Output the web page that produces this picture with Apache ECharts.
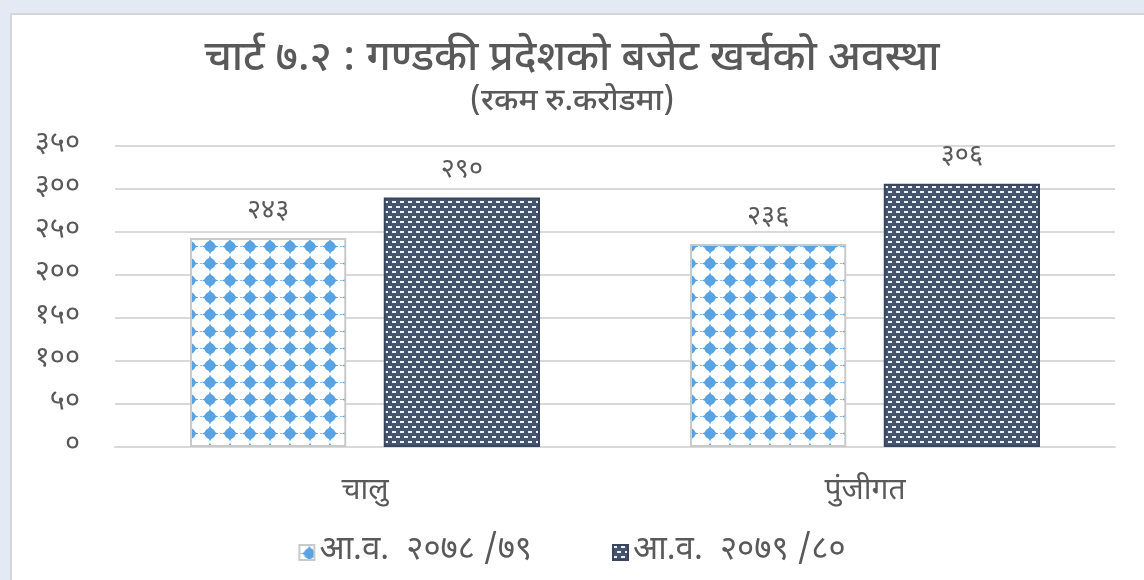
<!DOCTYPE html>
<html>
<head>
<meta charset="utf-8">
<script src="https://cdn.jsdelivr.net/npm/echarts@6/dist/echarts.min.js"></script>
<style>
  html, body { margin: 0; padding: 0; background: #e4eaf4; }
  .frame {
    position: absolute; left: 10px; top: 13px; width: 1140px; height: 580px;
    background: #fff; border: 2px solid #d6d6d6;
  }
  #chart { position: absolute; left: -12px; top: -15px; width: 1144px; height: 580px; }
</style>
</head>
<body>
<div class="frame"><div id="chart"></div></div>
<script>
// 数据
const categories = ['चालु', 'पुंजीगत']
const seriesNames = ['आ.व.  २०७८ /७९', 'आ.व.  २०७९ /८०']
const values7879 = [243, 236]
const values7980 = [290, 306]
const titleText = 'चार्ट ७.२ : गण्डकी प्रदेशको बजेट खर्चको अवस्था'
const subText = '(रकम रु.करोडमा)'

const FONT = "'Noto Sans Devanagari', 'Noto Sans', sans-serif"
const devDigits = ['०', '१', '२', '३', '४', '५', '६', '७', '८', '९']
const toDev = v => String(v).replace(/[0-9]/g, d => devDigits[+d])

// 蓝色星点图案
const makeDotPattern = () => {
  const c = document.createElement('canvas')
  c.width = 20; c.height = 17
  const g = c.getContext('2d')
  g.fillStyle = '#ffffff'
  g.fillRect(0, 0, 20, 17)
  g.strokeStyle = '#8cc0ec'
  g.lineWidth = 1
  g.setLineDash([2, 2])
  g.beginPath(); g.moveTo(0, 8.5); g.lineTo(20, 8.5); g.stroke()
  g.setLineDash([])
  g.fillStyle = '#5aa3e2'
  const cx = 10, cy = 8.5, r = 8
  g.beginPath()
  g.moveTo(cx, cy - r)
  g.quadraticCurveTo(cx + 2, cy - 2, cx + r, cy)
  g.quadraticCurveTo(cx + 2, cy + 2, cx, cy + r)
  g.quadraticCurveTo(cx - 2, cy + 2, cx - r, cy)
  g.quadraticCurveTo(cx - 2, cy - 2, cx, cy - r)
  g.fill()
  g.beginPath(); g.arc(cx, cy, 5.4, 0, Math.PI * 2); g.fill()
  return c
}

// 深色短划线图案
const makeDashPattern = () => {
  const c = document.createElement('canvas')
  c.width = 8; c.height = 10
  const g = c.getContext('2d')
  g.fillStyle = '#46556f'
  g.fillRect(0, 0, 8, 10)
  g.fillStyle = '#eef1f5'
  g.fillRect(0, 1, 4, 2)
  g.fillRect(4, 6, 4, 2)
  return c
}

const chart = echarts.init(document.getElementById('chart'))

const labelStyle = {
  show: true,
  position: 'top',
  distance: 12,
  color: '#595959',
  fontSize: 27,
  fontFamily: FONT,
  formatter: p => toDev(p.value)
}

const option = {
  animation: false,
  title: {
    text: titleText,
    subtext: subText,
    left: 'center',
    top: 36,
    itemGap: 6,
    textStyle: { color: '#595959', fontSize: 42, fontWeight: 500, fontFamily: FONT },
    subtextStyle: { color: '#595959', fontSize: 31, fontWeight: 500, fontFamily: FONT }
  },
  legend: {
    top: 531,
    left: 'center',
    icon: 'rect',
    itemWidth: 15,
    itemHeight: 15,
    itemGap: 80,
    textStyle: { color: '#595959', fontSize: 33, fontFamily: FONT },
    data: seriesNames
  },
  grid: { left: 115, right: 29, top: 146, bottom: 133 },
  xAxis: {
    type: 'category',
    data: categories,
    axisTick: { show: false },
    axisLine: { lineStyle: { color: '#d9d9d9', width: 2 } },
    axisLabel: { color: '#595959', fontSize: 30, fontFamily: FONT, margin: 31 }
  },
  yAxis: {
    type: 'value',
    min: 0,
    max: 350,
    interval: 50,
    axisLine: { show: false },
    axisTick: { show: false },
    splitLine: { lineStyle: { color: '#d9d9d9', width: 2 } },
    axisLabel: { color: '#595959', fontSize: 29, fontFamily: FONT, margin: 35, formatter: v => toDev(v) }
  },
  series: [
    {
      name: seriesNames[0],
      type: 'bar',
      data: values7879,
      barGap: '24%',
      barCategoryGap: '30%',
      itemStyle: {
        color: { image: makeDotPattern(), repeat: 'repeat' },
        borderColor: '#c9c9c9',
        borderWidth: 2
      },
      label: labelStyle
    },
    {
      name: seriesNames[1],
      type: 'bar',
      data: values7980,
      itemStyle: {
        color: { image: makeDashPattern(), repeat: 'repeat' },
        borderColor: '#3a4660',
        borderWidth: 2
      },
      label: labelStyle
    }
  ]
}

chart.setOption(option)
</script>
</body>
</html>
